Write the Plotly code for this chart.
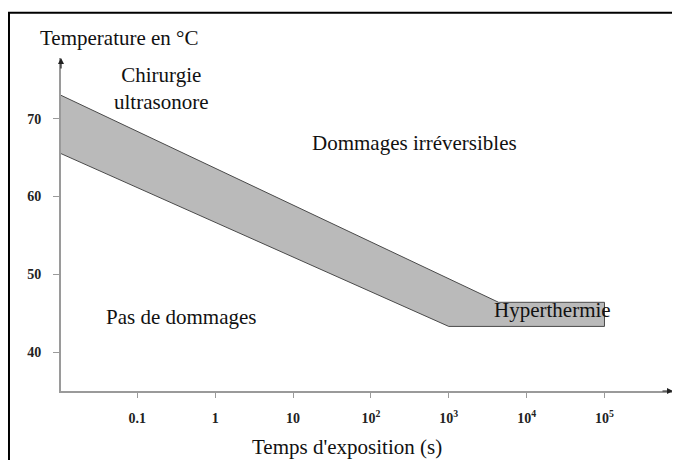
import plotly.graph_objects as go

# band limits (temperature vs exposure time)
upper_time = [0.01, 10 ** 3.64, 1e5]
upper_temp = [73.1, 46.4, 46.4]
lower_time = [0.01, 1e3, 1e5]
lower_temp = [65.6, 43.3, 43.3]

x_ticks = [0.1, 1, 10, 100, 1000, 1e4, 1e5]
x_ticktext = ["0.1", "1", "10", "10<sup>2</sup>", "10<sup>3</sup>", "10<sup>4</sup>", "10<sup>5</sup>"]
y_ticks = [40, 50, 60, 70]

serif = "Liberation Serif, Times New Roman, serif"

fig = go.Figure()

# closed polygon: upper edge then lower edge reversed
band_x = upper_time + lower_time[::-1] + [upper_time[0]]
band_y = upper_temp + lower_temp[::-1] + [upper_temp[0]]
fig.add_trace(go.Scatter(
    x=band_x, y=band_y, mode="lines", fill="toself",
    fillcolor="#bababa", line=dict(color="#4a4a4a", width=1),
    hoverinfo="skip", showlegend=False,
))

fig.update_xaxes(
    type="log", range=[-1.98, 5.88],
    tickvals=x_ticks, ticktext=x_ticktext,
    showline=True, linecolor="#9a9a9a", linewidth=2,
    ticks="outside", ticklen=5, tickcolor="#9a9a9a", tickwidth=1,
    ticklabelstandoff=8,
    tickfont=dict(family=serif, size=14, color="#222", weight="bold"),
    showgrid=False, zeroline=False,
)
fig.update_yaxes(
    range=[35, 77.8], tickvals=y_ticks,
    showline=True, linecolor="#9a9a9a", linewidth=2,
    ticks="outside", ticklen=6, tickcolor="#9a9a9a", tickwidth=1,
    ticklabelstandoff=9,
    tickfont=dict(family=serif, size=14, color="#222", weight="bold"),
    showgrid=False, zeroline=False,
)

txt = dict(family=serif, size=21, color="#111")
labels = [
    (-0.69, 73.9, "Chirurgie<br>ultrasonore"),
    (2.56, 66.9, "Dommages irréversibles"),
    (-0.44, 44.5, "Pas de dommages"),
    (4.33, 45.4, "Hyperthermie"),
]
for lx, ly, t in labels:
    fig.add_annotation(x=lx, y=ly, text=t, showarrow=False, font=txt,
                       xref="x", yref="y", xanchor="center", yanchor="middle")

fig.add_annotation(x=0.0964, y=1.06, xref="paper", yref="paper",
                   text="Temperature en °C", showarrow=False, font=txt,
                   xanchor="center", yanchor="middle")
fig.add_annotation(x=0.467, y=-0.168, xref="paper", yref="paper",
                   text="Temps d'exposition (s)", showarrow=False, font=txt,
                   xanchor="center", yanchor="middle")

# axis arrowheads
fig.add_annotation(x=5.88, y=35, ax=-12, ay=0, xref="x", yref="y",
                   showarrow=True, arrowhead=2, arrowsize=1, arrowwidth=1.2,
                   arrowcolor="#222", text="")
fig.add_annotation(x=-1.98, y=77.8, ax=0, ay=12, xref="x", yref="y",
                   showarrow=True, arrowhead=2, arrowsize=1, arrowwidth=1.2,
                   arrowcolor="#222", text="")

# outer frame
fig.add_shape(type="rect", xref="paper", yref="paper",
              x0=-0.085, x1=1.05, y0=-0.25, y1=1.136,
              line=dict(color="#000", width=2), fillcolor="rgba(0,0,0,0)")

fig.update_layout(
    width=680, height=460,
    margin=dict(l=53, r=15, t=50, b=77),
    paper_bgcolor="white", plot_bgcolor="white",
    showlegend=False,
)

fig.write_html("out.html")
